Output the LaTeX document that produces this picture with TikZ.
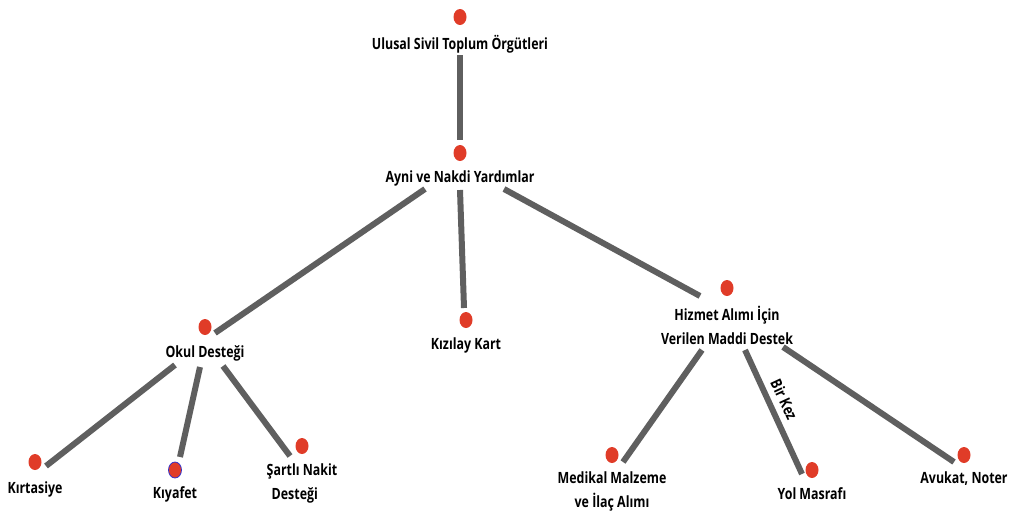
\documentclass[tikz,border=0pt]{standalone}
\usepackage{fontspec}
\usetikzlibrary{shapes.geometric}
\setmainfont{Open Sans}[FakeStretch=0.8,BoldFont={Open Sans Bold},BoldFeatures={FakeStretch=0.8}]
\begin{document}
\begin{tikzpicture}[x=1pt,y=-1pt,
  lbl/.style={font=\bfseries\fontsize{15.5}{24}\selectfont, text=black, inner sep=0pt, align=center},
  dot/.style={ellipse, fill=dotred, minimum width=13pt, minimum height=16pt, inner sep=0pt},
  link/.style={draw=linkgray, line width=6pt}]
\definecolor{dotred}{HTML}{E03C28}
\definecolor{linkgray}{HTML}{5F5F5F}
\useasboundingbox (0,0) rectangle (1011,514);
% nodes (dots and labels)
\node[dot] (d-usto) at (460,17) {};
\node[lbl] (usto) at (460,44) {Ulusal Sivil Toplum Örgütleri};
\node[dot] (d-ayni) at (460,153) {};
\node[lbl] (ayni) at (460,178) {Ayni ve Nakdi Yardımlar};
\node[dot] (d-okul) at (205,327) {};
\node[lbl] (okul) at (205,353) {Okul Desteği};
\node[dot] (d-kiz) at (466,320) {};
\node[lbl] (kiz) at (466,345) {Kızılay Kart};
\node[dot] (d-hiz) at (727,288) {};
\node[lbl] (hiz) at (727,325) {Hizmet Alımı İçin\\Verilen Maddi Destek};
\node[dot] (d-kirt) at (35,462) {};
\node[lbl] (kirt) at (35,489) {Kırtasiye};
\node[dot, draw=blue!60!gray, line width=0.8pt] (d-kiya) at (175,470) {};
\node[lbl] (kiya) at (175,494) {Kıyafet};
\node[dot] (d-sart) at (302,446) {};
\node[lbl, align=left] (sart) at (302,483) {Şartlı Nakit\\\hspace*{5pt}Desteği};
\node[dot] (d-med) at (612,455) {};
\node[lbl] (med) at (612,491) {Medikal Malzeme\\ve İlaç Alımı};
\node[dot] (d-yol) at (812,470) {};
\node[lbl] (yol) at (812,494) {Yol Masrafı};
\node[dot] (d-avu) at (964,455) {};
\node[lbl] (avu) at (964,479) {Avukat, Noter};
% connector end points
\coordinate (c1a) at (460,55);  \coordinate (c1b) at (460,140);
\coordinate (c2a) at (425,189); \coordinate (c2b) at (215,333);
\coordinate (c3a) at (460,190); \coordinate (c3b) at (464,308);
\coordinate (c4a) at (504,189); \coordinate (c4b) at (700,296);
\coordinate (c5a) at (175,365); \coordinate (c5b) at (46,466);
\coordinate (c6a) at (200,367); \coordinate (c6b) at (180,457);
\coordinate (c7a) at (223,366); \coordinate (c7b) at (290,456);
\coordinate (c8a) at (702,350); \coordinate (c8b) at (623,462);
\coordinate (c9a) at (745,350); \coordinate (c9b) at (802,474);
\coordinate (c10a) at (783,347); \coordinate (c10b) at (954,462);
% connectors
\draw[link] (c1a) -- (c1b);
\draw[link] (c2a) -- (c2b);
\draw[link] (c3a) -- (c3b);
\draw[link] (c4a) -- (c4b);
\draw[link] (c5a) -- (c5b);
\draw[link] (c6a) -- (c6b);
\draw[link] (c7a) -- (c7b);
\draw[link] (c8a) -- (c8b);
\draw[link] (c9a) -- (c9b) node[lbl, pos=0.45, rotate=-65, anchor=south, inner sep=6pt] (birkez) {Bir Kez};
\draw[link] (c10a) -- (c10b);
\end{tikzpicture}
\end{document}
